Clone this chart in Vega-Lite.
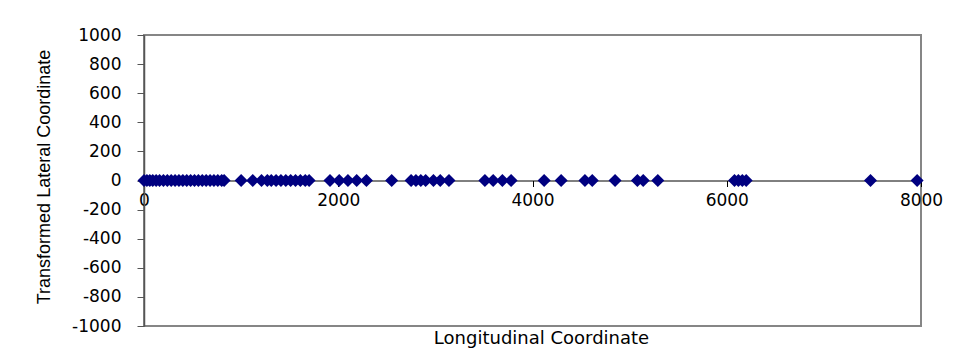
{
  "$schema": "https://vega.github.io/schema/vega-lite/v6.json",
  "autosize": {"type": "none"},
  "width": 777,
  "height": 291,
  "padding": {"left": 144, "top": 35, "right": 37, "bottom": 23},
  "background": "white",
  "config": {
    "view": {"stroke": "#868686", "strokeWidth": 2},
    "axis": {"grid": false, "labelColor": "black", "titleColor": "black", "labelFont": "DejaVu Sans", "labelFontSize": 17, "labelFontWeight": "normal", "titleFontWeight": "normal", "labelExpr": "'' + datum.value"}
  },
  "data": {"values": [
    {"x": 0, "y": 0}, {"x": 30, "y": 0}, {"x": 60, "y": 0}, {"x": 90, "y": 0}, {"x": 125, "y": 0},
    {"x": 160, "y": 0}, {"x": 200, "y": 0}, {"x": 240, "y": 0}, {"x": 280, "y": 0}, {"x": 320, "y": 0},
    {"x": 360, "y": 0}, {"x": 400, "y": 0}, {"x": 440, "y": 0}, {"x": 480, "y": 0}, {"x": 520, "y": 0},
    {"x": 560, "y": 0}, {"x": 600, "y": 0}, {"x": 640, "y": 0}, {"x": 680, "y": 0}, {"x": 720, "y": 0},
    {"x": 760, "y": 0}, {"x": 800, "y": 0}, {"x": 825, "y": 0},
    {"x": 1000, "y": 0}, {"x": 1120, "y": 0}, {"x": 1210, "y": 0},
    {"x": 1270, "y": 0}, {"x": 1310, "y": 0}, {"x": 1360, "y": 0}, {"x": 1410, "y": 0}, {"x": 1460, "y": 0},
    {"x": 1510, "y": 0}, {"x": 1560, "y": 0}, {"x": 1610, "y": 0}, {"x": 1660, "y": 0}, {"x": 1700, "y": 0},
    {"x": 1915, "y": 0}, {"x": 2010, "y": 0}, {"x": 2100, "y": 0}, {"x": 2190, "y": 0}, {"x": 2290, "y": 0},
    {"x": 2550, "y": 0},
    {"x": 2750, "y": 0}, {"x": 2800, "y": 0}, {"x": 2850, "y": 0}, {"x": 2900, "y": 0}, {"x": 2980, "y": 0},
    {"x": 3050, "y": 0}, {"x": 3140, "y": 0},
    {"x": 3510, "y": 0}, {"x": 3595, "y": 0}, {"x": 3690, "y": 0}, {"x": 3780, "y": 0},
    {"x": 4120, "y": 0}, {"x": 4295, "y": 0}, {"x": 4540, "y": 0}, {"x": 4615, "y": 0}, {"x": 4850, "y": 0},
    {"x": 5080, "y": 0}, {"x": 5140, "y": 0}, {"x": 5290, "y": 0},
    {"x": 6080, "y": 0}, {"x": 6120, "y": 0}, {"x": 6160, "y": 0}, {"x": 6200, "y": 0},
    {"x": 7480, "y": 0}, {"x": 7960, "y": 0}
  ]},
  "mark": {"type": "point", "shape": "diamond", "filled": true, "size": 170, "color": "#000080", "opacity": 1},
  "encoding": {
    "x": {
      "field": "x", "type": "quantitative",
      "scale": {"domain": [0, 8000], "nice": false, "zero": false},
      "axis": {
        "title": "Longitudinal Coordinate",
        "values": [0, 2000, 4000, 6000, 8000],
        "offset": -145.5,
        "domainColor": "black", "domainWidth": 1,
        "tickColor": "black", "tickSize": 6, "labelPadding": 6,
        "labelFlush": false,
        "titleFont": "DejaVu Sans", "titleFontSize": 18,
        "titleX": 397, "titleY": 158, "titleBaseline": "middle", "titleAnchor": null
      }
    },
    "y": {
      "field": "y", "type": "quantitative",
      "scale": {"domain": [-1000, 1000], "nice": false},
      "axis": {
        "title": "Transformed Lateral Coordinate",
        "values": [-1000, -800, -600, -400, -200, 0, 200, 400, 600, 800, 1000],
        "domainColor": "#555555", "domainWidth": 1.5,
        "tickColor": "#555555", "tickSize": 7, "labelPadding": 16,
        "titleFont": "Liberation Sans", "titleFontSize": 18,
        "titleX": -100, "titleY": 141.5, "titleAngle": -90, "titleBaseline": "middle", "titleAlign": "center"
      }
    }
  }
}
